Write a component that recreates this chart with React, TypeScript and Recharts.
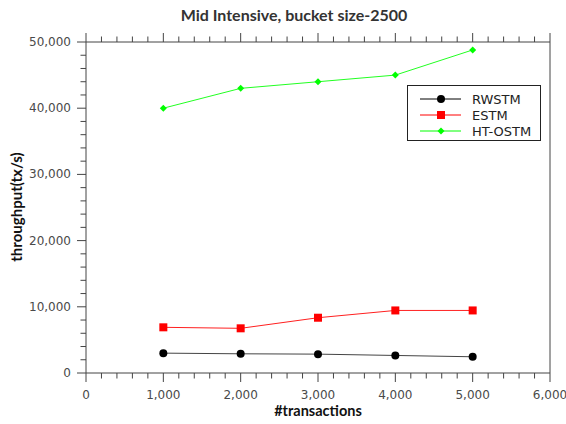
import React from "react";
import { LineChart, Line, XAxis, YAxis } from "recharts";

const transactions = [1000, 2000, 3000, 4000, 5000];
const rwstm = [3000, 2900, 2850, 2650, 2450];
const estm = [6900, 6750, 8350, 9450, 9450];
const htostm = [40000, 43000, 44000, 45000, 48800];

const xTicks = Array.from({ length: 31 }, (_, i) => i * 200);
const yTicks = Array.from({ length: 26 }, (_, i) => i * 2000);

const data = transactions.map((t, i) => ({
  t,
  RWSTM: rwstm[i],
  ESTM: estm[i],
  "HT-OSTM": htostm[i],
}));

const AXIS = "#444";
const TEXT = "#4a4a4a";
const TICK_FONT = "'DejaVu Sans', sans-serif";
const LABEL_FONT = "Lato, 'DejaVu Sans', sans-serif";

const fmt = (v: number) => v.toLocaleString("en-US");

const BottomTick = (p: any) => {
  const v = p.payload.value;
  const major = v % 1000 === 0;
  return (
    <g>
      <line x1={p.x} x2={p.x} y1={p.y} y2={p.y + (major ? 9 : 5.5)} stroke={AXIS} />
      {major && (
        <text x={p.x} y={p.y + 26} textAnchor="middle" fontSize={12} fill={TEXT} fontFamily={TICK_FONT}>
          {fmt(v)}
        </text>
      )}
    </g>
  );
};

const TopTick = (p: any) => {
  const major = p.payload.value % 1000 === 0;
  return <line x1={p.x} x2={p.x} y1={p.y} y2={p.y - (major ? 9 : 5.5)} stroke={AXIS} />;
};

const LeftTick = (p: any) => {
  const v = p.payload.value;
  const major = v % 10000 === 0;
  return (
    <g>
      <line x1={p.x} x2={p.x - (major ? 9 : 5.5)} y1={p.y} y2={p.y} stroke={AXIS} />
      {major && (
        <text x={p.x - 15} y={p.y + 4} textAnchor="end" fontSize={12} fill={TEXT} fontFamily={TICK_FONT}>
          {fmt(v)}
        </text>
      )}
    </g>
  );
};

const RightTick = (p: any) => {
  const major = p.payload.value % 10000 === 0;
  return <line x1={p.x} x2={p.x + (major ? 9 : 5.5)} y1={p.y} y2={p.y} stroke={AXIS} />;
};

const CircleDot = (p: any) => <circle key={p.index} cx={p.cx} cy={p.cy} r={4} fill="#000" />;
const SquareDot = (p: any) => <rect key={p.index} x={p.cx - 4} y={p.cy - 4} width={8} height={8} fill="#ff0000" />;
const DiamondDot = (p: any) => (
  <polygon
    key={p.index}
    points={`${p.cx},${p.cy - 3.5} ${p.cx + 3.5},${p.cy} ${p.cx},${p.cy + 3.5} ${p.cx - 3.5},${p.cy}`}
    fill="#00ff00"
  />
);

const legendItems = [
  { name: "RWSTM", line: "#000", marker: <circle cx={21} cy={7} r={4} fill="#000" /> },
  { name: "ESTM", line: "#ff0000", marker: <rect x={17} y={3} width={8} height={8} fill="#ff0000" /> },
  { name: "HT-OSTM", line: "#00ff00", marker: <polygon points="21,3.5 24.5,7 21,10.5 17.5,7" fill="#00ff00" /> },
];

function ChartLegend() {
  return (
    <div
      style={{
        position: "absolute",
        left: 407,
        top: 85,
        width: 134,
        height: 56,
        border: "1px solid #222",
        boxSizing: "border-box",
        background: "#fff",
        paddingTop: 5,
      }}
    >
      {legendItems.map((it) => (
        <div key={it.name} style={{ display: "flex", alignItems: "center", height: 16 }}>
          <svg width={64} height={14}>
            <line x1={12} x2={53} y1={7} y2={7} stroke={it.line} strokeWidth={1} />
            <g transform="translate(12,0)">{it.marker}</g>
          </svg>
          <span style={{ fontFamily: TICK_FONT, fontSize: 13, color: "#222" }}>{it.name}</span>
        </div>
      ))}
    </div>
  );
}

export default function App() {
  return (
    <div style={{ position: "absolute", left: 0, top: 0, width: 566, height: 424, background: "#fff" }}>
      <div
        style={{
          position: "absolute",
          left: 0,
          top: 5,
          width: 588,
          textAlign: "center",
          fontFamily: LABEL_FONT,
          fontWeight: 700,
          fontSize: 16,
          color: "#333",
        }}
      >
        Mid Intensive, bucket size-2500
      </div>
      <LineChart width={566} height={424} data={data} margin={{ top: 0, right: 0, bottom: 0, left: 0 }}>
        <XAxis
          dataKey="t"
          type="number"
          domain={[0, 6000]}
          ticks={xTicks}
          interval={0}
          height={51}
          tickSize={0}
          tickMargin={0}
          tickLine={false}
          tick={BottomTick}
          stroke={AXIS}
        />
        <XAxis
          xAxisId="top"
          orientation="top"
          dataKey="t"
          type="number"
          domain={[0, 6000]}
          ticks={xTicks}
          interval={0}
          height={42}
          tickSize={0}
          tickMargin={0}
          tickLine={false}
          tick={TopTick}
          stroke={AXIS}
        />
        <YAxis
          type="number"
          domain={[0, 50000]}
          ticks={yTicks}
          interval={0}
          width={86}
          tickSize={0}
          tickMargin={0}
          tickLine={false}
          tick={LeftTick}
          stroke={AXIS}
        />
        <YAxis
          yAxisId="right"
          orientation="right"
          type="number"
          domain={[0, 50000]}
          ticks={yTicks}
          interval={0}
          width={16}
          tickSize={0}
          tickMargin={0}
          tickLine={false}
          tick={RightTick}
          stroke={AXIS}
        />
        <Line dataKey="RWSTM" stroke="#444" strokeWidth={1} dot={CircleDot} activeDot={false} isAnimationActive={false} />
        <Line dataKey="ESTM" stroke="#ff2020" strokeWidth={1} dot={SquareDot} activeDot={false} isAnimationActive={false} />
        <Line dataKey="HT-OSTM" stroke="#22ff22" strokeWidth={1} dot={DiamondDot} activeDot={false} isAnimationActive={false} />
      </LineChart>
      <ChartLegend />
      <div
        style={{
          position: "absolute",
          left: 86,
          top: 402,
          width: 464,
          textAlign: "center",
          fontFamily: LABEL_FONT,
          fontWeight: 700,
          fontSize: 14.5,
          color: "#111",
        }}
      >
        #transactions
      </div>
      <div
        style={{
          position: "absolute",
          left: 16,
          top: 207,
          transform: "translate(-50%, -50%) rotate(-90deg)",
          whiteSpace: "nowrap",
          fontFamily: LABEL_FONT,
          fontWeight: 700,
          fontSize: 15,
          color: "#111",
        }}
      >
        throughput(tx/s)
      </div>
    </div>
  );
}
